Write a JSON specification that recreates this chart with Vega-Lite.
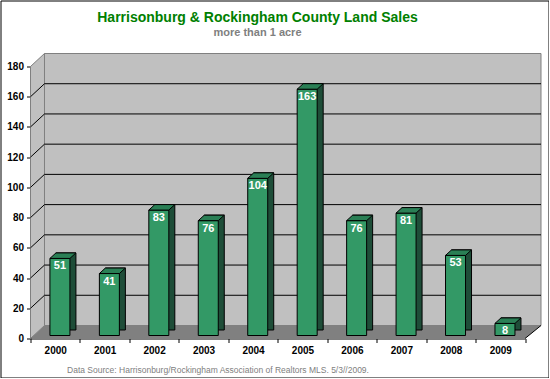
{
  "$schema": "https://vega.github.io/schema/vega-lite/v6.json",
  "width": 548,
  "height": 377,
  "padding": 0.5,
  "autosize": {"type": "none"},
  "background": "white",
  "config": {
    "view": {"stroke": "black", "strokeWidth": 1},
    "font": "Liberation Sans"
  },
  "title": {
    "text": "Harrisonburg & Rockingham County Land Sales",
    "subtitle": "more than 1 acre",
    "font": "Liberation Sans",
    "fontSize": 14,
    "fontWeight": "bold",
    "color": "#008000",
    "subtitleFont": "Liberation Sans",
    "subtitleFontSize": 11,
    "subtitleFontWeight": "bold",
    "subtitleColor": "#808080",
    "subtitlePadding": 2,
    "anchor": "middle",
    "frame": "group",
    "dx": -17,
    "offset": -37
  },
  "data": {
    "values": [
      {"year": 2000, "sales": 51},
      {"year": 2001, "sales": 41},
      {"year": 2002, "sales": 83},
      {"year": 2003, "sales": 76},
      {"year": 2004, "sales": 104},
      {"year": 2005, "sales": 163},
      {"year": 2006, "sales": 76},
      {"year": 2007, "sales": 81},
      {"year": 2008, "sales": 53},
      {"year": 2009, "sales": 8}
    ]
  },
  "layer": [
    {
      "data": {"values": [{}]},
      "mark": {"type": "point", "shape": "M-0.0491,-0.9088L0.0491,-1L0.0491,0.9088L-0.0491,1Z", "size": 81225, "filled": true, "fill": "#C0C0C0", "stroke": "#808080", "strokeWidth": 1, "opacity": 1, "xOffset": 7, "yOffset": -6.5},
      "encoding": {
        "x": {"datum": 1999.5, "type": "quantitative", "scale": {"domain": [1999.5, 2009.5], "range": [30, 524.5], "nice": false, "zero": false},
          "axis": {"orient": "bottom", "offset": -39, "values": [1999.5, 2000.5, 2001.5, 2002.5, 2003.5, 2004.5, 2005.5, 2006.5, 2007.5, 2008.5, 2009.5],
            "labelExpr": "datum.value < 2009 ? '' + (datum.value + 0.5) : ''", "labelOffset": 24.7, "labelFont": "Liberation Sans", "labelFontSize": 10, "labelFontWeight": "bold", "labelColor": "black", "labelPadding": 3, "labelOverlap": false, "labelFlush": false,
            "domainColor": "black", "tickColor": "black", "tickSize": 4, "grid": false,
            "title": "Data Source:  Harrisonburg/Rockingham Association of Realtors MLS.  5/3//2009.",
            "titleFont": "Liberation Sans", "titleFontSize": 8.5, "titleFontWeight": "normal", "titleColor": "#808080", "titleX": 217, "titleY": 34, "titleAlign": "center", "titleBaseline": "alphabetic"}},
        "y": {"datum": 90, "type": "quantitative", "scale": {"domain": [0, 180], "range": [338, 66], "nice": false, "zero": false},
          "axis": {"orient": "left", "offset": -30, "values": [0, 20, 40, 60, 80, 100, 120, 140, 160, 180], "labelFont": "Liberation Sans", "labelFontSize": 10, "labelFontWeight": "bold", "labelColor": "black", "labelPadding": 3,
            "domainColor": "black", "tickColor": "black", "tickSize": 4, "grid": false, "title": null}}
      }
    },
    {
      "data": {"values": [{}]},
      "mark": {"type": "rect", "fill": "#C0C0C0", "stroke": "#808080", "strokeWidth": 1, "xOffset": 14, "x2Offset": 16, "yOffset": -13, "y2Offset": -13},
      "encoding": {
        "x": {"datum": 1999.5, "type": "quantitative"},
        "x2": {"datum": 2009.5},
        "y": {"datum": 180, "type": "quantitative"},
        "y2": {"datum": 0}
      }
    },
    {
      "data": {"values": [{}]},
      "mark": {"type": "point", "shape": "M-1,0.0255L-0.9452,-0.0255L1,-0.0255L0.9373,0.0255Z", "size": 260610, "filled": true, "fill": "#808080", "strokeWidth": 0, "opacity": 1, "xOffset": 8, "yOffset": -6.5},
      "encoding": {
        "x": {"datum": 2004.5, "type": "quantitative"},
        "y": {"datum": 0, "type": "quantitative"}
      }
    },
    {
      "data": {"values": [{"v": 20}, {"v": 40}, {"v": 60}, {"v": 80}, {"v": 100}, {"v": 120}, {"v": 140}, {"v": 160}]},
      "mark": {"type": "rule", "color": "black", "strokeWidth": 1, "xOffset": 14, "x2Offset": 16, "yOffset": -13},
      "encoding": {
        "x": {"datum": 1999.5, "type": "quantitative"},
        "x2": {"datum": 2009.5},
        "y": {"field": "v", "type": "quantitative"}
      }
    },
    {
      "data": {"values": [{"v": 20}, {"v": 40}, {"v": 60}, {"v": 80}, {"v": 100}, {"v": 120}, {"v": 140}, {"v": 160}]},
      "mark": {"type": "rule", "color": "black", "strokeWidth": 1, "x2Offset": 14, "y2Offset": -13},
      "encoding": {
        "x": {"datum": 1999.5, "type": "quantitative"},
        "x2": {"datum": 1999.5},
        "y": {"field": "v", "type": "quantitative"},
        "y2": {"field": "v"}
      }
    },
    {
      "data": {"values": [{}]},
      "mark": {"type": "rule", "color": "black", "strokeWidth": 1, "x2Offset": 16, "y2Offset": -13},
      "encoding": {
        "x": {"datum": 2009.5, "type": "quantitative"},
        "x2": {"datum": 2009.5},
        "y": {"datum": 0, "type": "quantitative"},
        "y2": {"datum": 0}
      }
    },
    {
      "mark": {"type": "rect", "fill": "#1E4D38", "stroke": "black", "strokeWidth": 1, "xOffset": 0.7, "x2Offset": 20.7, "yOffset": -8.5, "y2Offset": -8.5},
      "encoding": {
        "x": {"field": "year", "type": "quantitative"},
        "x2": {"field": "year"},
        "y": {"field": "sales", "type": "quantitative"},
        "y2": {"datum": 0}
      }
    },
    {
      "mark": {"type": "rect", "fill": "#339966", "stroke": "black", "strokeWidth": 1, "xOffset": -5.3, "x2Offset": 14.7, "yOffset": -3, "y2Offset": -3},
      "encoding": {
        "x": {"field": "year", "type": "quantitative"},
        "x2": {"field": "year"},
        "y": {"field": "sales", "type": "quantitative"},
        "y2": {"datum": 0}
      }
    },
    {
      "mark": {"type": "point", "shape": "M-1,0.2115L0.5385,0.2115L1,-0.2115L-0.5385,-0.2115Z", "size": 676, "filled": true, "fill": "#2A7F55", "stroke": "black", "strokeWidth": 1, "opacity": 1, "xOffset": 7.7, "yOffset": -5.75},
      "encoding": {
        "x": {"field": "year", "type": "quantitative"},
        "y": {"field": "sales", "type": "quantitative"}
      }
    },
    {
      "mark": {"type": "text", "color": "white", "font": "Liberation Sans", "fontSize": 11, "fontWeight": "bold", "align": "center", "baseline": "alphabetic", "xOffset": 4.7, "yOffset": 8},
      "encoding": {
        "x": {"field": "year", "type": "quantitative"},
        "y": {"field": "sales", "type": "quantitative"},
        "text": {"field": "sales", "type": "quantitative"}
      }
    }
  ]
}
